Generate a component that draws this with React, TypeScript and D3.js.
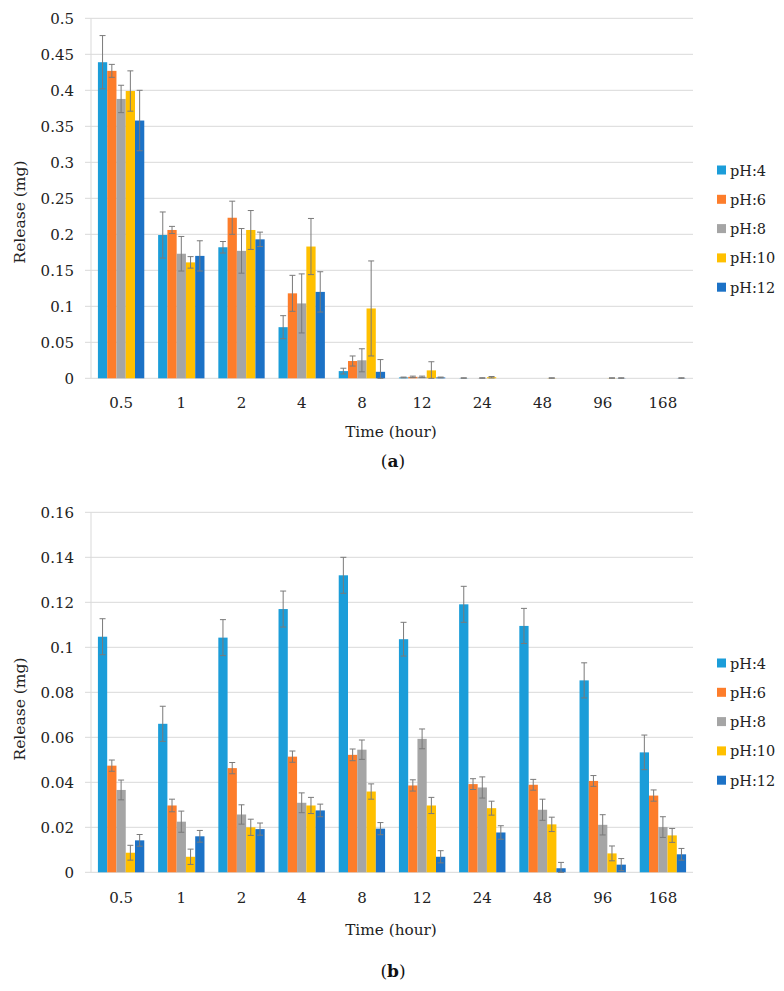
import React from "react";
import * as d3 from "d3";

const categories = ["0.5", "1", "2", "4", "8", "12", "24", "48", "96", "168"];
const seriesNames = ["pH:4", "pH:6", "pH:8", "pH:10", "pH:12"];
const colors = ["#1b9dd9", "#fd7d2b", "#a5a5a5", "#ffc000", "#1c72c6"];

// Panel (a)
const aPH4 = [0.439, 0.199, 0.182, 0.071, 0.010, 0.0012, 0.0002, 0, 0, 0];
const aPH6 = [0.427, 0.206, 0.223, 0.118, 0.024, 0.002, 0, 0, 0, 0];
const aPH8 = [0.388, 0.173, 0.177, 0.104, 0.025, 0.002, 0.0003, 0, 0, 0];
const aPH10 = [0.399, 0.161, 0.206, 0.183, 0.097, 0.011, 0.0015, 0.0002, 0.0002, 0];
const aPH12 = [0.358, 0.170, 0.193, 0.120, 0.009, 0.0012, 0, 0, 0.0002, 0.0002];
const aErr4 = [0.037, 0.032, 0.008, 0.016, 0.004, 0.0005, 0.0005, 0, 0, 0];
const aErr6 = [0.009, 0.005, 0.023, 0.025, 0.007, 0.001, 0, 0, 0, 0];
const aErr8 = [0.019, 0.024, 0.031, 0.041, 0.016, 0.001, 0.0005, 0, 0, 0];
const aErr10 = [0.028, 0.008, 0.027, 0.039, 0.066, 0.012, 0.001, 0.0005, 0.0005, 0];
const aErr12 = [0.042, 0.021, 0.010, 0.028, 0.017, 0.0005, 0, 0, 0.0005, 0.0005];
const aTicks = [0, 0.05, 0.1, 0.15, 0.2, 0.25, 0.3, 0.35, 0.4, 0.45, 0.5];

// Panel (b)
const bPH4 = [0.1047, 0.066, 0.1043, 0.117, 0.132, 0.1036, 0.1191, 0.1095, 0.0853, 0.0533];
const bPH6 = [0.0474, 0.0297, 0.0463, 0.0514, 0.0522, 0.0386, 0.0392, 0.0389, 0.0406, 0.0341];
const bPH8 = [0.0366, 0.0225, 0.0257, 0.0309, 0.0545, 0.0593, 0.0377, 0.0278, 0.0211, 0.0201];
const bPH10 = [0.0087, 0.0069, 0.020, 0.0297, 0.0359, 0.0297, 0.0285, 0.0213, 0.0084, 0.0164];
const bPH12 = [0.0142, 0.016, 0.0192, 0.0275, 0.0194, 0.0069, 0.0177, 0.0018, 0.0034, 0.008];
const bErr4 = [0.008, 0.0078, 0.008, 0.008, 0.008, 0.0075, 0.008, 0.0078, 0.0078, 0.0077];
const bErr6 = [0.0025, 0.0028, 0.0025, 0.0025, 0.0026, 0.0025, 0.0024, 0.0024, 0.0024, 0.0025];
const bErr8 = [0.0044, 0.0047, 0.0043, 0.0044, 0.0043, 0.0044, 0.0047, 0.0047, 0.0045, 0.0046];
const bErr10 = [0.0033, 0.0034, 0.0036, 0.0036, 0.0034, 0.0036, 0.0031, 0.0032, 0.0033, 0.0031];
const bErr12 = [0.0026, 0.0026, 0.0027, 0.0028, 0.0027, 0.0027, 0.003, 0.0026, 0.0027, 0.0026];
const bTicks = [0, 0.02, 0.04, 0.06, 0.08, 0.1, 0.12, 0.14, 0.16];

const FONT = "'DejaVu Serif', serif";

type PanelProps = {
  values: number[][];
  errors: number[][];
  ticks: number[];
  yMax: number;
  top: number;
  bottom: number;
  xLabelY: number;
  xTitleY: number;
  yTitleY: number;
  legendY: number;
  letter: string;
  letterY: number;
};

const fmt = (v: number) => (v === 0 ? "0" : String(+v.toFixed(2)));

function Panel(p: PanelProps) {
  const left = 91;
  const right = 693;
  const x = d3.scaleBand<string>().domain(categories).range([left, right]).paddingInner(0.23).paddingOuter(0.115);
  const xs = d3.scaleBand<string>().domain(seriesNames).range([0, x.bandwidth()]);
  const y = d3.scaleLinear().domain([0, p.yMax]).range([p.bottom, p.top]);
  const grid = "#d9d9d9";
  return (
    <g fontFamily={FONT}>
      {p.ticks.map((t) => (
        <g key={t}>
          <line x1={85} x2={right} y1={y(t)} y2={y(t)} stroke={grid} strokeWidth={1} />
          <text x={74} y={y(t) + 6} textAnchor="end" fontSize={15} fill="#222">
            {fmt(t)}
          </text>
        </g>
      ))}
      <line x1={left} x2={left} y1={p.top} y2={p.bottom} stroke={grid} strokeWidth={1} />
      {seriesNames.map((s, si) => (
        <g key={s}>
          {categories.map((c, ci) => {
            const v = p.values[si][ci];
            const bx = (x(c) as number) + (xs(s) as number);
            return (
              <rect key={c} x={bx} y={y(v)} width={xs.bandwidth()} height={Math.max(0, y(0) - y(v))} fill={colors[si]} />
            );
          })}
        </g>
      ))}
      {seriesNames.map((s, si) => (
        <g key={s + "e"} stroke="#7a7a7a" strokeWidth={1}>
          {categories.map((c, ci) => {
            const v = p.values[si][ci];
            const e = p.errors[si][ci];
            if (!e) return null;
            const cx = (x(c) as number) + (xs(s) as number) + xs.bandwidth() / 2;
            const y1 = y(v + e);
            const y2 = y(Math.max(0, v - e));
            return (
              <g key={c}>
                <line x1={cx} x2={cx} y1={y1} y2={y2} />
                <line x1={cx - 3} x2={cx + 3} y1={y1} y2={y1} />
                <line x1={cx - 3} x2={cx + 3} y1={y2} y2={y2} />
              </g>
            );
          })}
        </g>
      ))}
      {categories.map((c) => (
        <text key={c} x={(x(c) as number) + x.bandwidth() / 2} y={p.xLabelY} textAnchor="middle" fontSize={15} fill="#222">
          {c}
        </text>
      ))}
      <text x={391} y={p.xTitleY} textAnchor="middle" fontSize={15.3} fill="#222">
        Time (hour)
      </text>
      <text
        transform={`translate(20,${p.yTitleY}) rotate(-90)`}
        textAnchor="middle"
        dominantBaseline="central"
        fontSize={15.5}
        fill="#222"
      >
        Release (mg)
      </text>
      {seriesNames.map((s, si) => (
        <g key={s + "l"} transform={`translate(717,${p.legendY + si * 29.3})`}>
          <rect x={0} y={-4.5} width={9} height={9} fill={colors[si]} />
          <text x={13} y={5.5} fontSize={14.5} fill="#222">
            {s}
          </text>
        </g>
      ))}
      <text x={393} y={p.letterY} textAnchor="middle" fontSize={17} fill="#111">
        (<tspan fontWeight="bold">{p.letter}</tspan>)
      </text>
    </g>
  );
}

export default function App() {
  return (
    <svg
      width={784}
      height={991}
      viewBox="0 0 784 991"
      style={{ position: "absolute", left: 0, top: 0, background: "#fff" }}
    >
      <rect x={0} y={0} width={784} height={991} fill="#fff" />
      <Panel
        values={[aPH4, aPH6, aPH8, aPH10, aPH12]}
        errors={[aErr4, aErr6, aErr8, aErr10, aErr12]}
        ticks={aTicks}
        yMax={0.5}
        top={18.3}
        bottom={378.3}
        xLabelY={408}
        xTitleY={437}
        yTitleY={212}
        legendY={170}
        letter="a"
        letterY={467}
      />
      <Panel
        values={[bPH4, bPH6, bPH8, bPH10, bPH12]}
        errors={[bErr4, bErr6, bErr8, bErr10, bErr12]}
        ticks={bTicks}
        yMax={0.16}
        top={512.3}
        bottom={872.3}
        xLabelY={902.5}
        xTitleY={935}
        yTitleY={709}
        legendY={663}
        letter="b"
        letterY={977}
      />
    </svg>
  );
}
